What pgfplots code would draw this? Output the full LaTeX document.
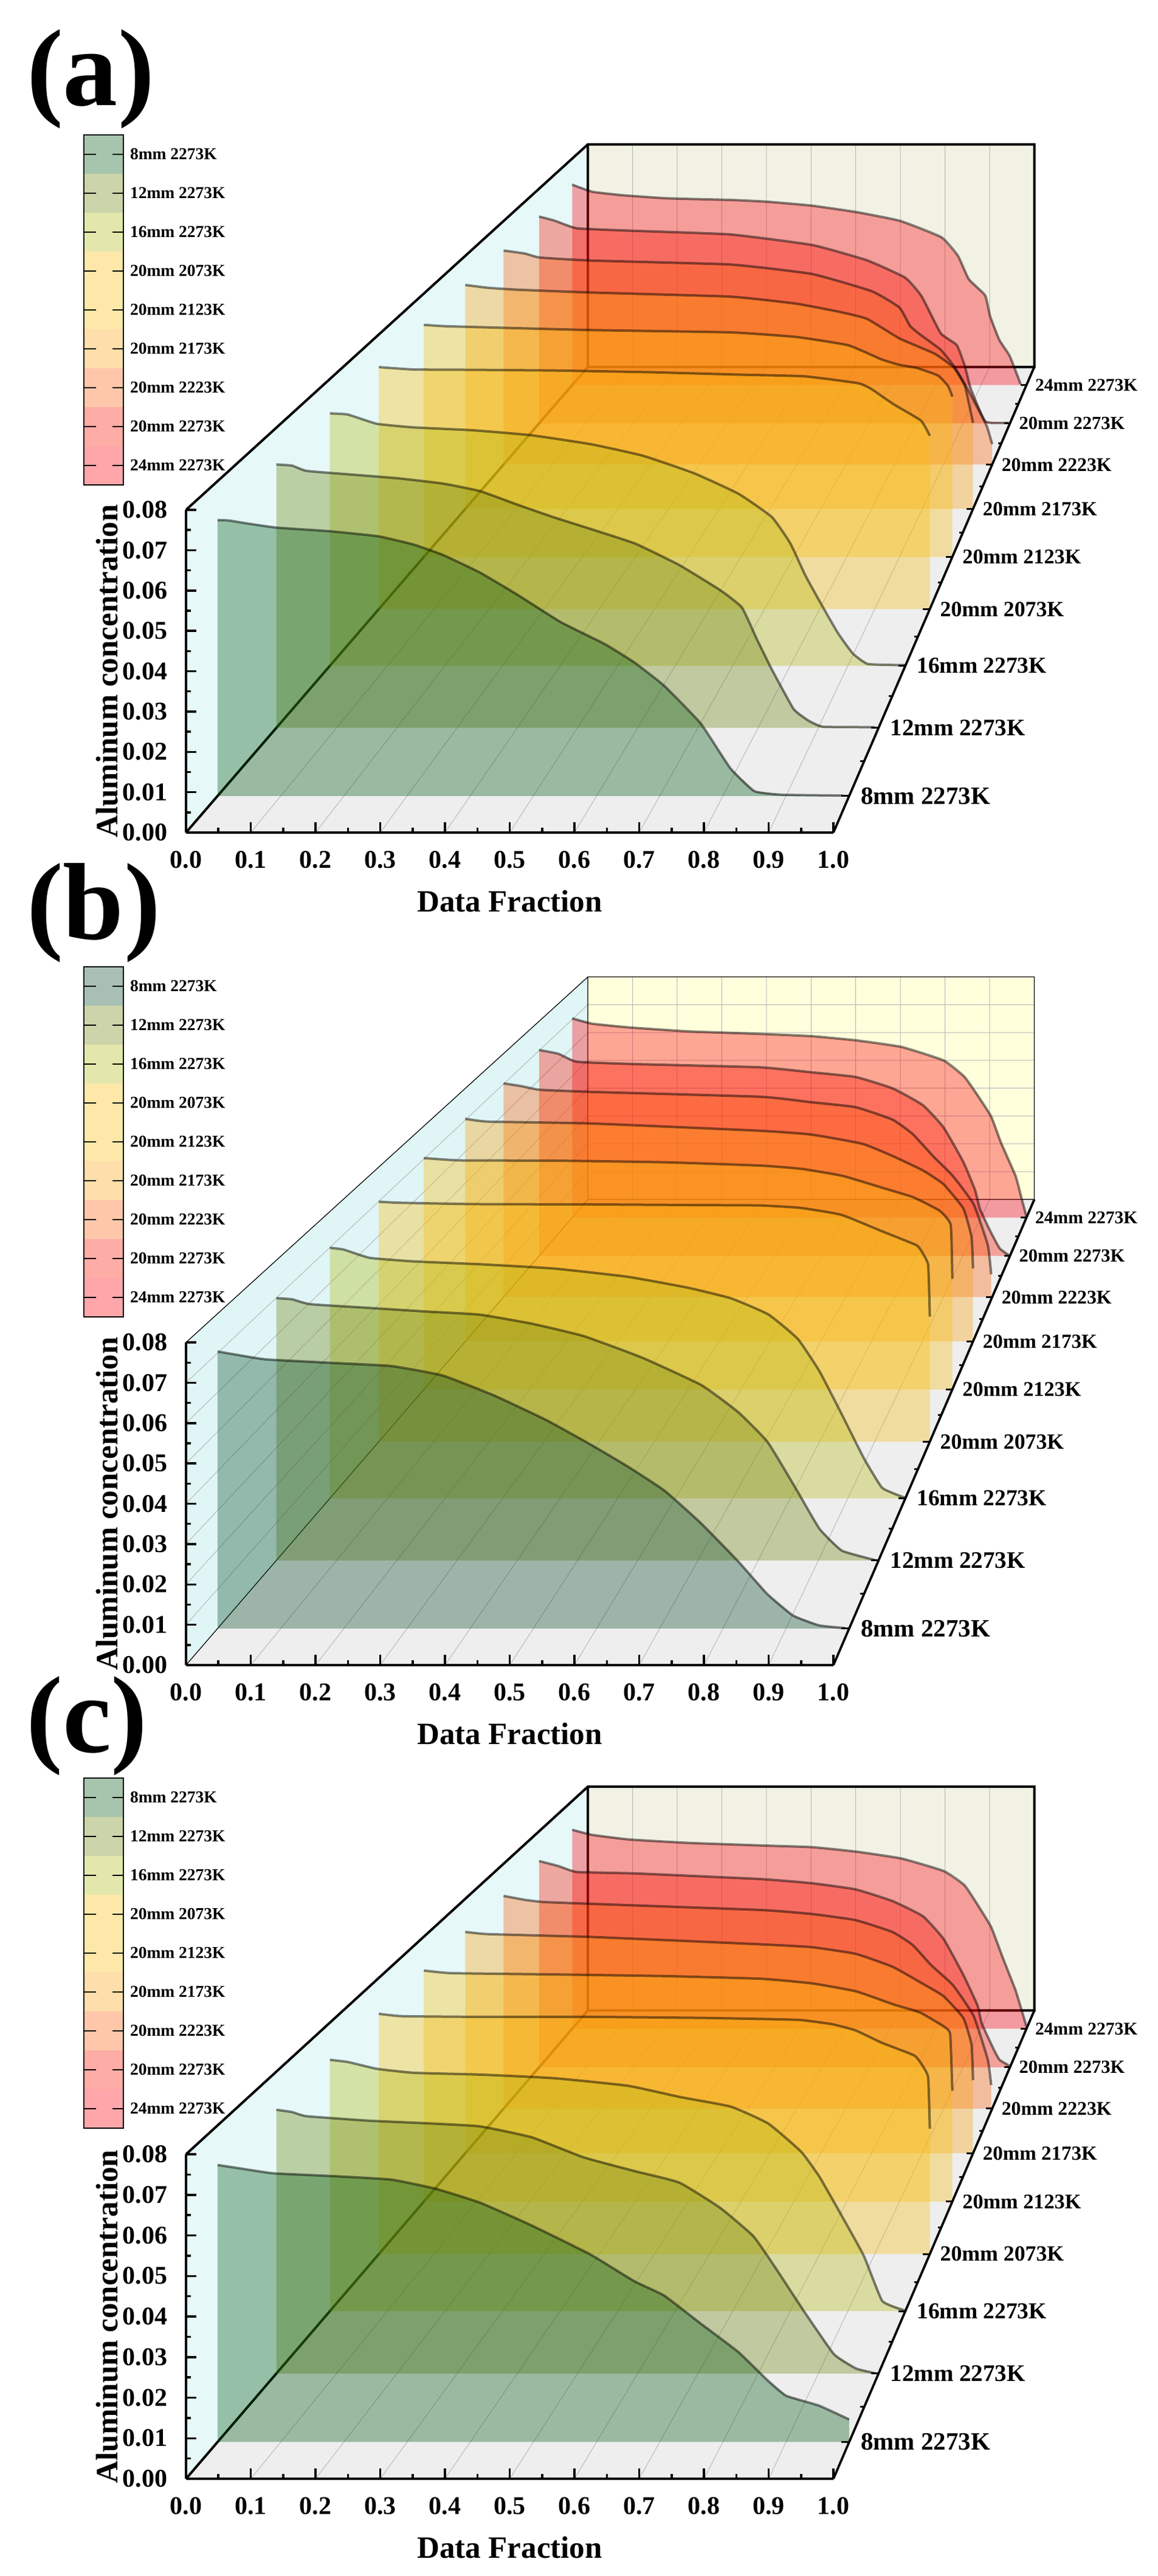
\documentclass[border=0pt]{standalone}
\usepackage{fontspec}
\usepackage{pgfplots}
\usepackage{pgfplotstable}
\pgfplotsset{compat=1.18}
\setmainfont{Liberation Serif}

% palette p = panels a, c; palette q = panel b (legend colour = base at 35%)
\definecolor{pA}{RGB}{0,89,18}
\definecolor{pB}{RGB}{109,132,12}
\definecolor{pC}{RGB}{178,186,15}
\definecolor{pD}{RGB}{249,189,12}
\definecolor{pE}{RGB}{249,189,12}
\definecolor{pF}{RGB}{252,161,12}
\definecolor{pG}{RGB}{252,95,12}
\definecolor{pH}{RGB}{252,18,0}
\definecolor{pI}{RGB}{252,0,12}
\definecolor{qA}{RGB}{6,75,41}
\definecolor{qB}{RGB}{112,132,12}
\definecolor{qC}{RGB}{178,186,15}
\definecolor{qD}{RGB}{249,189,12}
\definecolor{qE}{RGB}{249,189,12}
\definecolor{qF}{RGB}{252,161,12}
\definecolor{qG}{RGB}{252,95,12}
\definecolor{qH}{RGB}{252,18,0}
\definecolor{qI}{RGB}{252,0,12}
\definecolor{pback}{RGB}{242,242,228}
\definecolor{pleft}{RGB}{230,248,248}
\definecolor{qback}{RGB}{255,255,220}
\definecolor{qleft}{RGB}{224,245,245}
\definecolor{floorc}{RGB}{238,238,238}

\newcommand{\rd}[2]{\pgfplotstableread[row sep=\\]{f v\\#1}#2}
\newcommand{\rg}[2]{\pgfplotstableread[row sep=\\]{f v d\\#1}#2}

% panel a
\rd{0 0\\0 .0701\\.018 .07\\.041 .0694\\.093 .0682\\.176 .0673\\.254 .066\\.31 .0639\\.356 .0613\\.415 .0568\\.473 .0513\\.543 .0442\\.613 .0386\\.66 .0339\\.707 .028\\.765 .0184\\.812 .007\\.85 .0012\\.894 .0003\\.99 .0001\\.99 0\\}\taA
\rd{0 0\\0 .0702\\.026 .0699\\.05 .0685\\.118 .0676\\.203 .0665\\.277 .0651\\.338 .0631\\.4 .0595\\.461 .0561\\.522 .053\\.596 .0491\\.669 .0434\\.737 .0367\\.773 .0321\\.798 .0236\\.822 .0158\\.859 .005\\.884 .0019\\.908 .0003\\.994 .0002\\.994 0\\}\taB
\rd{0 0\\0 .0704\\.031 .0701\\.082 .0675\\.146 .0665\\.249 .0657\\.351 .0643\\.454 .0618\\.544 .0586\\.633 .0537\\.71 .048\\.768 .0415\\.8 .0342\\.826 .0253\\.851 .018\\.883 .0091\\.909 .0034\\.935 .0005\\.999 .0002\\.999 0\\}\taC
\rd{0 0\\0 .0705\\.063 .0698\\.17 .0697\\.318 .0695\\.492 .069\\.653 .0683\\.773 .0678\\.87 .0658\\.894 .0641\\.934 .0597\\.984 .0549\\1 .0505\\1 0\\}\taD
\rd{0 0\\0 .0705\\.039 .0701\\.151 .0696\\.318 .0689\\.581 .0682\\.705 .0668\\.803 .0643\\.866 .06\\.901 .0583\\.933 .0574\\.973 .0551\\.992 .0519\\1 .0487\\1 0\\}\taE
\rd{0 0\\0 .0708\\.045 .0699\\.103 .0693\\.249 .0684\\.522 .0671\\.651 .0649\\.737 .0623\\.791 .0601\\.855 .0539\\.924 .0491\\.962 .0447\\.984 .0388\\1 .0272\\1 0\\}\taF
\rd{0 0\\0 .0703\\.044 .0693\\.074 .068\\.18 .067\\.464 .0657\\.631 .0626\\.754 .0569\\.81 .0516\\.832 .0455\\.855 .0424\\.894 .0378\\.921 .0325\\.944 .0264\\.967 .0195\\.989 .0126\\1 .0067\\1 0\\}\taG
\rd{0 0\\0 .0705\\.033 .0691\\.08 .0665\\.19 .0657\\.406 .0644\\.58 .0608\\.696 .0556\\.777 .0497\\.812 .0434\\.853 .0307\\.887 .0267\\.904 .0196\\.917 .0117\\.948 .0006\\.997 .0002\\.997 0\\}\taH
\rd{0 0\\0 .0708\\.044 .0683\\.109 .0671\\.207 .066\\.35 .0654\\.428 .0648\\.527 .0634\\.626 .0611\\.722 .058\\.813 .0522\\.849 .0457\\.873 .0374\\.909 .0317\\.92 .0243\\.94 .016\\.963 .0103\\.987 .0004\\.987 0\\}\taI
% panel b
\rd{0 0\\0 .0704\\.029 .0696\\.076 .0684\\.181 .0675\\.275 .0667\\.356 .0643\\.438 .0592\\.52 .053\\.59 .0468\\.648 .0413\\.707 .0351\\.765 .0268\\.824 .0171\\.87 .0088\\.911 .0033\\.952 .0008\\.993 .0001\\.993 0\\}\tbA
\rd{0 0\\0 .0699\\.026 .0696\\.056 .0683\\.154 .0673\\.252 .0663\\.338 .0655\\.424 .0631\\.51 .0598\\.608 .054\\.706 .0467\\.767 .0395\\.816 .0315\\.865 .0185\\.902 .0084\\.939 .0026\\.994 .0001\\.994 0\\}\tbB
\rd{0 0\\0 .0699\\.024 .0694\\.069 .0671\\.146 .0661\\.262 .0653\\.39 .0641\\.518 .0618\\.621 .0588\\.697 .0558\\.762 .0513\\.813 .0445\\.851 .0354\\.89 .0233\\.928 .0112\\.96 .0029\\.999 .0002\\.999 0\\}\tbC
\rd{0 0\\0 .0699\\.036 .0696\\.17 .0692\\.385 .0691\\.586 .0689\\.692 .0688\\.765 .0681\\.839 .0661\\.913 .0613\\.976 .0572\\.987 .0549\\.997 .0514\\1 .0364\\1 0\\}\tbD
\rd{0 0\\0 .0703\\.067 .0696\\.249 .0695\\.458 .069\\.638 .068\\.715 .067\\.792 .0649\\.869 .0612\\.926 .0584\\.976 .0543\\.997 .05\\1 .0336\\1 0\\}\tbE
\rd{0 0\\0 .0704\\.045 .0695\\.249 .0689\\.581 .0666\\.682 .0654\\.782 .0625\\.842 .0586\\.901 .0541\\.942 .0497\\.981 .042\\.997 .0331\\1 .0231\\1 0\\}\tbF
\rd{0 0\\0 .0702\\.036 .0693\\.074 .0681\\.18 .0674\\.526 .0658\\.63 .064\\.72 .0624\\.796 .0583\\.837 .0536\\.879 .0463\\.92 .0397\\.962 .0305\\.991 .0171\\.998 .0075\\.998 0\\}\tbG
\rd{0 0\\0 .0702\\.041 .0689\\.08 .0662\\.205 .0654\\.47 .0643\\.578 .0626\\.672 .061\\.751 .0571\\.815 .0514\\.859 .0438\\.901 .032\\.926 .0224\\.936 .0161\\.958 .0085\\.978 .0026\\.998 .0002\\.998 0\\}\tbH
\rd{0 0\\0 .0704\\.044 .0685\\.125 .0672\\.255 .0658\\.416 .0649\\.528 .0641\\.626 .0626\\.725 .0603\\.818 .0555\\.863 .0498\\.889 .044\\.922 .0358\\.943 .0268\\.976 .0147\\.989 .0069\\1 .0004\\1 0\\}\tbI
% panel c
\rd{0 0\\0 .07\\.029 .0693\\.088 .0679\\.181 .0672\\.275 .0663\\.345 .064\\.415 .0605\\.496 .0548\\.59 .0474\\.66 .0406\\.707 .037\\.765 .0299\\.824 .0228\\.87 .0157\\.9 .0117\\.952 .0092\\1 .0057\\1 0\\}\tcA
\rd{0 0\\0 .0699\\.026 .0693\\.05 .0682\\.154 .067\\.252 .0663\\.338 .0655\\.424 .0626\\.51 .0573\\.596 .0536\\.669 .0506\\.737 .0439\\.792 .0364\\.828 .0282\\.877 .0163\\.926 .0051\\.963 .0013\\.994 .0001\\.994 0\\}\tcB
\rd{0 0\\0 .0697\\.031 .0691\\.082 .0672\\.146 .0661\\.262 .0656\\.39 .0646\\.518 .0625\\.608 .0594\\.697 .0567\\.762 .052\\.819 .0442\\.851 .0372\\.89 .0263\\.928 .0153\\.96 .0028\\.999 .0002\\.999 0\\}\tcC
\rd{0 0\\0 .0696\\.043 .0689\\.184 .0687\\.385 .0687\\.586 .0684\\.692 .0681\\.765 .0678\\.822 .0666\\.865 .0648\\.913 .0612\\.972 .0575\\.987 .0545\\.997 .0511\\1 .0363\\1 0\\}\tcD
\rd{0 0\\0 .0698\\.053 .069\\.249 .0686\\.458 .0681\\.638 .0673\\.735 .0659\\.818 .0635\\.888 .0596\\.939 .0571\\.985 .0528\\.996 .0505\\1 .0335\\1 0\\}\tcE
\rd{0 0\\0 .0696\\.045 .0689\\.249 .068\\.581 .0657\\.682 .0648\\.769 .0627\\.842 .0586\\.901 .0533\\.942 .0494\\.981 .0425\\.997 .0342\\1 .023\\1 0\\}\tcF
\rd{0 0\\0 .0695\\.044 .0682\\.082 .0675\\.18 .0669\\.526 .0649\\.63 .0636\\.72 .0616\\.796 .0577\\.837 .0535\\.875 .0469\\.92 .0403\\.962 .0303\\.991 .016\\.998 .0077\\.998 0\\}\tcG
\rd{0 0\\0 .0699\\.041 .0682\\.08 .0662\\.205 .0657\\.47 .0638\\.578 .0624\\.672 .0603\\.751 .0563\\.815 .0512\\.859 .0435\\.901 .0313\\.931 .021\\.94 .0149\\.966 .0059\\.978 .0025\\.998 .0006\\.998 0\\}\tcH
\rd{0 0\\0 .0699\\.044 .0681\\.125 .0665\\.255 .0653\\.416 .0644\\.528 .0638\\.626 .0622\\.725 .0598\\.818 .0554\\.863 .0505\\.889 .0444\\.922 .0358\\.948 .0249\\.976 .0135\\.989 .0067\\1 .0008\\1 0\\}\tcI

% walls: f = data fraction, v = concentration, d = depth
\rg{0 0 0\\1 0 0\\1 0 9\\0 0 9\\}\wallfloor
\rg{0 0 0\\0 .08 0\\0 .08 9\\0 0 9\\}\wallleft
\rg{0 0 9\\1 0 9\\1 .08 9\\0 .08 9\\}\wallback
\rg{.1 0 0\\.1 0 9\\nan nan nan\\.2 0 0\\.2 0 9\\nan nan nan\\.3 0 0\\.3 0 9\\nan nan nan\\.4 0 0\\.4 0 9\\nan nan nan\\.5 0 0\\.5 0 9\\nan nan nan\\.6 0 0\\.6 0 9\\nan nan nan\\.7 0 0\\.7 0 9\\nan nan nan\\.8 0 0\\.8 0 9\\nan nan nan\\.9 0 0\\.9 0 9\\nan nan nan\\.1 0 9\\.1 .08 9\\nan nan nan\\.2 0 9\\.2 .08 9\\nan nan nan\\.3 0 9\\.3 .08 9\\nan nan nan\\.4 0 9\\.4 .08 9\\nan nan nan\\.5 0 9\\.5 .08 9\\nan nan nan\\.6 0 9\\.6 .08 9\\nan nan nan\\.7 0 9\\.7 .08 9\\nan nan nan\\.8 0 9\\.8 .08 9\\nan nan nan\\.9 0 9\\.9 .08 9\\}\gridall
\rg{0 .01 0\\0 .01 9\\1 .01 9\\nan nan nan\\0 .02 0\\0 .02 9\\1 .02 9\\nan nan nan\\0 .03 0\\0 .03 9\\1 .03 9\\nan nan nan\\0 .04 0\\0 .04 9\\1 .04 9\\nan nan nan\\0 .05 0\\0 .05 9\\1 .05 9\\nan nan nan\\0 .06 0\\0 .06 9\\1 .06 9\\nan nan nan\\0 .07 0\\0 .07 9\\1 .07 9\\}\gridb
\rg{0 0 0\\0 0 9\\1 0 9\\1 .08 9\\0 .08 9\\0 .08 0\\nan nan nan\\0 0 9\\0 .08 9\\}\frameall
\rg{1 0 0\\1 0 9\\}\depthaxis
\rg{.9875 0 .5\\1 0 .5\\nan nan nan\\.9875 0 1.5\\1 0 1.5\\nan nan nan\\.9875 0 2.5\\1 0 2.5\\nan nan nan\\.9875 0 3.5\\1 0 3.5\\nan nan nan\\.9875 0 4.5\\1 0 4.5\\nan nan nan\\.9875 0 5.5\\1 0 5.5\\nan nan nan\\.9875 0 6.5\\1 0 6.5\\nan nan nan\\.9875 0 7.5\\1 0 7.5\\nan nan nan\\.9875 0 8.5\\1 0 8.5\\nan nan nan\\.9935 0 1\\1 0 1\\nan nan nan\\.9935 0 2\\1 0 2\\nan nan nan\\.9935 0 3\\1 0 3\\nan nan nan\\.9935 0 4\\1 0 4\\nan nan nan\\.9935 0 5\\1 0 5\\nan nan nan\\.9935 0 6\\1 0 6\\nan nan nan\\.9935 0 7\\1 0 7\\nan nan nan\\.9935 0 8\\1 0 8\\}\depthticks

% perspective of the original: vanishing point at (2, 0.372), depth scale 1/(1+0.05 d)
\newcommand{\projx}[1]{2+(\thisrow{f}-2)/(1+0.05*#1)}
\newcommand{\projy}[1]{0.372+(\thisrow{v}-0.372)/(1+0.05*#1)}
\newcommand{\plane}[2]{\addplot[#1] table[x expr={\projx{\thisrow{d}}},y expr={\projy{\thisrow{d}}}] {#2};}
\newcommand{\layer}[3]{%
  \addplot[draw=none,fill=#3,fill opacity=0.35] table[x expr={\projx{#2}},y expr={\projy{#2}}] {#1};
  \addplot[smooth,tension=0.25,draw=black,draw opacity=0.48,line width=0.8pt] table[x expr={\projx{#2}},y expr={\thisrow{v}>0 ? (\projy{#2}) : nan}] {#1};
}
\newcommand{\dlabel}[4]{\node[anchor=west,inner sep=0pt,font=\fontsize{#3}{#3}\selectfont\bfseries] at (axis cs:#1,#2) {#4};}

% #1 table letter, #2 y of origin, #3 height, #4 palette, #5 frame width, #6 extra grid
\newcommand{\panel}[6]{%
\begin{axis}[
  at={(61.2pt,#2)},anchor=south west,scale only axis,width=213pt,height=#3,
  clip=false,axis on top,unbounded coords=jump,
  xmin=0,xmax=1,ymin=0,ymax=0.08,
  axis x line*=bottom,axis y line*=left,
  axis line style={line width=0.75pt},
  tick style={line width=0.7pt,black},
  tick align=inside,major tick length=3.4pt,minor tick length=1.7pt,
  xtick={0,0.1,...,1.01},ytick={0,0.01,...,0.081},minor x tick num=1,minor y tick num=1,
  scaled x ticks=false,scaled y ticks=false,
  /pgf/number format/assume math mode=true,
  xticklabel style={/pgf/number format/fixed,/pgf/number format/fixed zerofill,/pgf/number format/precision=1,yshift=-2.6pt},
  yticklabel style={/pgf/number format/fixed,/pgf/number format/fixed zerofill,/pgf/number format/precision=2,xshift=-2.6pt},
  tick label style={font=\fontsize{8.4pt}{9pt}\selectfont\bfseries},
  xlabel={Data Fraction},ylabel={Aluminum concentration},
  every axis x label/.style={at={(axis description cs:0.5,0)},anchor=center,yshift=-22.6pt,font=\fontsize{10.2pt}{11pt}\selectfont\bfseries},
  every axis y label/.style={at={(axis description cs:-0.122,0.5)},anchor=center,rotate=90,font=\fontsize{10.2pt}{11pt}\selectfont\bfseries},
]
\plane{fill=floorc,draw=none}{\wallfloor}
\plane{fill=#4left,draw=none}{\wallleft}
\plane{fill=#4back,draw=none}{\wallback}
\plane{draw=black!28,line width=0.2pt}{\gridall}
#6
\plane{draw=black,line width=#5}{\frameall}
\expandafter\layer\csname t#1I\endcsname{8.5}{#4I}
\expandafter\layer\csname t#1H\endcsname{7.5}{#4H}
\expandafter\layer\csname t#1G\endcsname{6.5}{#4G}
\expandafter\layer\csname t#1F\endcsname{5.5}{#4F}
\expandafter\layer\csname t#1E\endcsname{4.5}{#4E}
\expandafter\layer\csname t#1D\endcsname{3.5}{#4D}
\expandafter\layer\csname t#1C\endcsname{2.5}{#4C}
\expandafter\layer\csname t#1B\endcsname{1.5}{#4B}
\expandafter\layer\csname t#1A\endcsname{0.5}{#4A}
\plane{draw=black,line width=0.75pt}{\depthaxis}
\plane{draw=black,line width=0.6pt}{\depthticks}
\dlabel{1.0415}{0.00907}{8.2pt}{8mm 2273K}
\dlabel{1.0870}{0.02596}{7.8pt}{12mm 2273K}
\dlabel{1.1280}{0.04133}{7.5pt}{16mm 2273K}
\dlabel{1.1640}{0.0554}{7.15pt}{20mm 2073K}
\dlabel{1.1985}{0.0683}{6.85pt}{20mm 2123K}
\dlabel{1.2300}{0.0802}{6.6pt}{20mm 2173K}
\dlabel{1.2590}{0.0912}{6.35pt}{20mm 2223K}
\dlabel{1.2860}{0.1015}{6.1pt}{20mm 2273K}
\dlabel{1.3110}{0.1109}{5.9pt}{24mm 2273K}
\end{axis}}

% legend strip, in picture pixels: #1 top, #2 palette
\newcommand{\strip}[2]{%
\begin{scope}[x=0.2pt,y=-0.2pt]
\foreach \c/\t [count=\i from 0] in {A/8mm 2273K,B/12mm 2273K,C/16mm 2273K,D/20mm 2073K,E/20mm 2123K,F/20mm 2173K,G/20mm 2223K,H/20mm 2273K,I/24mm 2273K}{
  \fill[#2\c!35] (138,#1+\i*64) rectangle (203,#1+\i*64+64);
  \draw[line width=0.35pt] (138,#1+\i*64+32) -- (158,#1+\i*64+32) (185,#1+\i*64+32) -- (203,#1+\i*64+32);
  \node[anchor=west,inner sep=0pt,font=\fontsize{5.5pt}{6pt}\selectfont\bfseries] at (213,#1+\i*64+32) {\t};
}
\draw[line width=0.4pt] (138,#1) rectangle (203,#1+576);
\end{scope}}

\begin{document}
\begin{tikzpicture}
\path[use as bounding box] (0pt,0pt) rectangle (380.8pt,-847.8pt);
\panel{a}{-274pt}{106.2pt}{p}{0.8pt}{}
\panel{b}{-548pt}{106.2pt}{q}{0.25pt}{\plane{draw=black!28,line width=0.2pt}{\gridb}}
\panel{c}{-815.8pt}{106.8pt}{p}{0.8pt}{}
\strip{222}{p}
\strip{1591}{q}
\strip{2926}{p}
\node[font=\fontsize{36pt}{36pt}\selectfont\bfseries,inner sep=0pt] at (29.8pt,-26pt) {(a)};
\node[font=\fontsize{36pt}{36pt}\selectfont\bfseries,inner sep=0pt] at (30.8pt,-300.4pt) {(b)};
\node[font=\fontsize{36pt}{36pt}\selectfont\bfseries,inner sep=0pt] at (28.6pt,-568pt) {(c)};
\end{tikzpicture}
\end{document}
